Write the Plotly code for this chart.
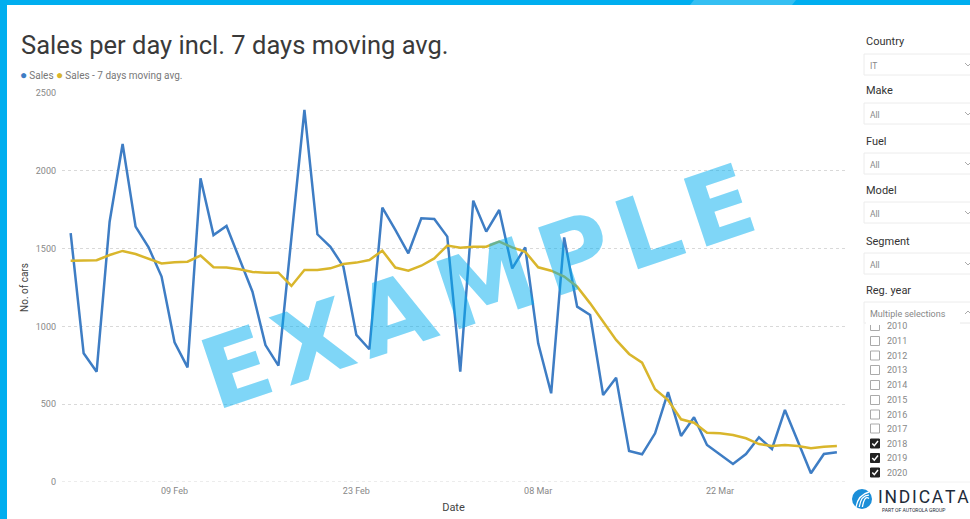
import pandas as pd
import plotly.graph_objects as go

# ---------------- data ----------------
dates = pd.date_range("2020-02-01", "2020-03-31", freq="D")
sales = [1600, 827, 709, 1673, 2172, 1641, 1508, 1320, 898, 737,
         1952, 1587, 1645, 1437, 1223, 880, 748, 1570, 2391, 1592,
         1512, 1384, 945, 853, 1763, 1620, 1470, 1695, 1690, 1577,
         709, 1808, 1609, 1748, 1373, 1508, 891, 570, 1572, 1127,
         1073, 559, 670, 199, 178, 313, 577, 296, 416, 238,
         175, 116, 180, 287, 212, 463, 260, 56, 180, 191]
moving_avg = [1422, 1422, 1425, 1459, 1485, 1465, 1437, 1405, 1412, 1416,
              1455, 1380, 1378, 1367, 1350, 1345, 1345, 1260, 1362, 1362,
              1373, 1401, 1410, 1427, 1487, 1378, 1358, 1390, 1437, 1520,
              1505, 1512, 1512, 1545, 1508, 1480, 1380, 1358, 1320, 1255,
              1148, 1030, 913, 823, 767, 596, 527, 403, 381, 317,
              313, 302, 281, 244, 231, 238, 231, 217, 227, 231]
x_tick_dates = ["2020-02-09", "2020-02-23", "2020-03-08", "2020-03-22"]
y_ticks = [0, 500, 1000, 1500, 2000, 2500]

slicers = [("Country", "IT"), ("Make", "All"), ("Fuel", "All"),
           ("Model", "All"), ("Segment", "All"), ("Reg. year", "Multiple selections")]
years = ["2010", "2011", "2012", "2013", "2014", "2015", "2016",
         "2017", "2018", "2019", "2020"]
years_checked = ["2018", "2019", "2020"]

BLUE = "#3E7DC4"
YELLOW = "#D9B62C"

W, H = 970, 519
PL, PR, PT, PB = 62, 845, 93, 482


def px(x):
    return (x - PL) / (PR - PL)


def py(y):
    return (PB - y) / (PB - PT)


fig = go.Figure()
fig.add_trace(go.Scatter(x=dates, y=sales, mode="lines", name="Sales",
                         line=dict(color=BLUE, width=2.5), showlegend=False))
fig.add_trace(go.Scatter(x=dates, y=moving_avg, mode="lines",
                         name="Sales - 7 days moving avg.",
                         line=dict(color=YELLOW, width=2.5), showlegend=False))

x0 = dates[0] - pd.Timedelta(hours=16)
x1 = dates[-1] + pd.Timedelta(hours=15)

fig.update_layout(
    width=W, height=H,
    margin=dict(l=PL, r=W - PR, t=PT, b=H - PB, autoexpand=False),
    paper_bgcolor="white", plot_bgcolor="white",
    font=dict(family="Roboto, sans-serif", color="#666"),
    xaxis=dict(range=[x0, x1], tickvals=pd.to_datetime(x_tick_dates),
               tickformat="%d %b", showgrid=False, zeroline=False,
               showline=False, ticks="", tickfont=dict(size=9, color="#888"),
               ticklabelstandoff=2, automargin=False,
               title=dict(text="Date", font=dict(size=11, color="#444"), standoff=8)),
    yaxis=dict(range=[0, 2500], tickvals=y_ticks, showgrid=True,
               gridcolor="#d9d9d9", griddash="dot", gridwidth=1,
               zeroline=False, showline=False, ticks="", automargin=False,
               tickfont=dict(size=9, color="#888"), ticklabelstandoff=5,
               title=dict(text="No. of cars", font=dict(size=10, color="#444"), standoff=5)),
)

shapes = []
ann = []

# dotted gridline at zero (edge of plot)
shapes.append(dict(type="line", xref="paper", yref="y", x0=0, x1=1, y0=0, y1=0,
                   line=dict(color="#d9d9d9", width=1, dash="dot"), layer="below"))

# frame bars
shapes.append(dict(type="rect", xref="paper", yref="paper", x0=px(0), x1=px(W),
                   y0=py(5), y1=py(0), fillcolor="#00AEEF", line=dict(width=0), layer="above"))
shapes.append(dict(type="path", xref="paper", yref="paper",
                   path=f"M {px(690)} {py(5)} L {px(694)} {py(0)} L {px(796)} {py(0)} L {px(792)} {py(5)} Z",
                   fillcolor="#35BFF2", line=dict(width=0), layer="above"))
shapes.append(dict(type="rect", xref="paper", yref="paper", x0=px(0), x1=px(7),
                   y0=py(H), y1=py(0), fillcolor="#00AEEF", line=dict(width=0), layer="above"))

# title
ann.append(dict(text="Sales per day incl. 7 days moving avg.", xref="paper", yref="paper",
                x=px(19), y=py(45), xanchor="left", yanchor="middle", showarrow=False,
                font=dict(size=25.5, color="#3a3a3a", family="Roboto, sans-serif")))
# legend
ann.append(dict(text=f"<span style='color:{BLUE};font-size:12px'>●</span>\u2009Sales <span style='color:{YELLOW};font-size:12px'>●</span>\u2009Sales - 7 days moving avg.",
                xref="paper", yref="paper", x=px(18), y=py(75), xanchor="left", yanchor="middle",
                showarrow=False, font=dict(size=10, color="#777")))

# slicers
label_y = [42, 91, 141, 190, 241, 290]
for (lab, val), ly in zip(slicers, label_y):
    ann.append(dict(text=lab, xref="paper", yref="paper", x=px(864), y=py(ly),
                    xanchor="left", yanchor="middle", showarrow=False,
                    font=dict(size=11, color="#333")))
    by0, by1 = ly + 12, ly + 33
    shapes.append(dict(type="rect", xref="paper", yref="paper", x0=px(864), x1=px(985),
                       y0=py(by1), y1=py(by0), fillcolor="white",
                       line=dict(color="#ececec", width=1)))
    if val != "Multiple selections":
        ann.append(dict(text=val, xref="paper", yref="paper", x=px(868), y=py(ly + 24),
                        xanchor="left", yanchor="middle", showarrow=False,
                        font=dict(size=8.5, color="#888")))
    cy = ly + 22
    if val == "Multiple selections":
        p = f"M {px(965)} {py(cy+2)} L {px(968)} {py(cy-1)} L {px(971)} {py(cy+2)}"
    else:
        p = f"M {px(965)} {py(cy-1)} L {px(968)} {py(cy+2)} L {px(971)} {py(cy-1)}"
    shapes.append(dict(type="path", xref="paper", yref="paper", path=p,
                       line=dict(color="#aaa", width=1)))

# year list
shapes.append(dict(type="rect", xref="paper", yref="paper", x0=px(864), x1=px(985),
                   y0=py(482), y1=py(323), fillcolor="rgba(0,0,0,0)",
                   line=dict(color="#f2f2f2", width=1)))
year_y = [326, 341, 355.5, 370, 385, 400, 414.5, 428.5, 443.5, 458, 472.5]
for yr, yy in zip(years, year_y):
    chk = yr in years_checked
    shapes.append(dict(type="rect", xref="paper", yref="paper", x0=px(870.5), x1=px(879.5),
                       y0=py(yy + 4.5), y1=py(yy - 4.5),
                       fillcolor="#222" if chk else "white",
                       line=dict(color="#222" if chk else "#aaa", width=1)))
    if chk:
        shapes.append(dict(type="path", xref="paper", yref="paper",
                           path=f"M {px(872.3)} {py(yy)} L {px(874.3)} {py(yy+2.2)} L {px(878)} {py(yy-2.5)}",
                           line=dict(color="white", width=1.5)))
    ann.append(dict(text=yr, xref="paper", yref="paper", x=px(885), y=py(yy),
                    xanchor="left", yanchor="middle", showarrow=False,
                    font=dict(size=9, color="#888")))
# hide top half of the clipped "2010"
shapes.append(dict(type="rect", xref="paper", yref="paper", x0=px(866), x1=px(960),
                   y0=py(325), y1=py(318), fillcolor="white", line=dict(width=0), layer="above"))
ann.append(dict(text="Multiple selections", xref="paper", yref="paper", x=px(868), y=py(314),
                xanchor="left", yanchor="middle", showarrow=False,
                font=dict(size=9, color="#888")))

# watermark
ann.append(dict(text="E\u200aX\u200aA\u200aM\u200aP\u200aL\u200aE", xref="paper", yref="paper",
                x=px(478), y=py(287), xanchor="center", yanchor="middle", showarrow=False,
                textangle=-18.5,
                font=dict(size=98, color="rgba(0,174,239,0.5)", family="DejaVu Sans", weight="bold")))

# logo
shapes.append(dict(type="circle", xref="paper", yref="paper", x0=px(852), x1=px(872),
                   y0=py(509), y1=py(489), fillcolor="#1B8ED8", line=dict(width=0), layer="above"))
for k in range(3):
    o = k * 3.2
    shapes.append(dict(type="path", xref="paper", yref="paper",
                       path=f"M {px(856+o)} {py(507)} Q {px(858+o)} {py(495)} {px(869)} {py(492+o)}",
                       line=dict(color="white", width=1.3), layer="above"))
ann.append(dict(text="I\u200aN\u200aD\u200aI\u200aC\u200aA\u200aT\u200aA", xref="paper", yref="paper",
                x=px(876), y=py(497), xanchor="left", yanchor="middle", showarrow=False,
                font=dict(size=17.5, color="#1E2B3A", family="Roboto, sans-serif")))
ann.append(dict(text="PART OF AUTOROLA GROUP", xref="paper", yref="paper",
                x=px(880), y=py(509.5), xanchor="left", yanchor="middle", showarrow=False,
                font=dict(size=5, color="#1E2B3A", family="Roboto, sans-serif")))

fig.update_layout(shapes=shapes, annotations=ann)
fig.write_html("out.html", config={"displayModeBar": False},
               post_script="document.body.style.margin='0';document.body.style.overflow='hidden';")
